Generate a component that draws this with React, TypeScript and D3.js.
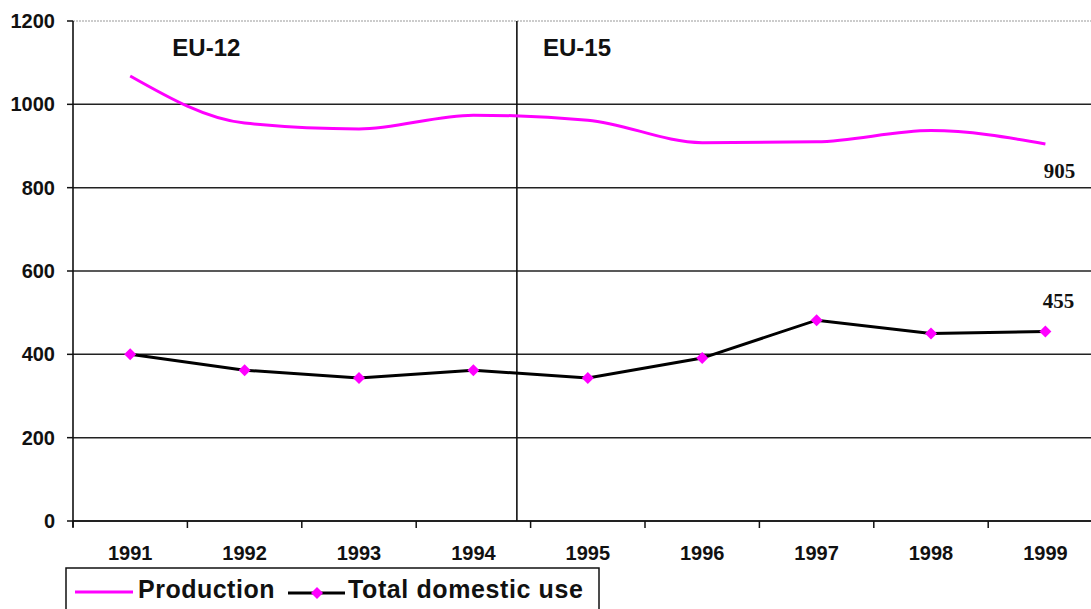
import React from "react";
import * as d3 from "d3";

const years = ["1991", "1992", "1993", "1994", "1995", "1996", "1997", "1998", "1999"];
const production = [1068, 955, 941, 974, 962, 908, 910, 937, 905];
const domesticUse = [400, 362, 343, 362, 343, 391, 482, 450, 455];
const yTicks = [0, 200, 400, 600, 800, 1000, 1200];
// EU-12 -> EU-15 divider, in category units from the left edge
const eraSplit = 3.88;
const eraLabels = [
  { label: "EU-12", at: 0.37 },
  { label: "EU-15", at: 3.61 },
];

const MAGENTA = "#ff00ff";

const App = () => {
  const width = 1091;
  const height = 609;
  const margins = { top: 21, left: 73, bottom: 88 };
  const bandW = 114.4;

  const x = d3
    .scaleBand<string>()
    .domain(years)
    .range([margins.left, margins.left + bandW * years.length])
    .padding(0);
  const y = d3
    .scaleLinear()
    .domain([0, 1200])
    .range([height - margins.bottom, margins.top]);

  const cx = (i: number) => (x(years[i]) as number) + x.bandwidth() / 2;
  const bottom = y(0);
  const top = y(1200);
  const plotRight = margins.left + bandW * years.length;

  const prodLine = d3
    .line<number>()
    .x((_, i) => cx(i))
    .y((d) => y(d))
    .curve(d3.curveMonotoneX);
  const useLine = d3
    .line<number>()
    .x((_, i) => cx(i))
    .y((d) => y(d));

  const diamond = (px: number, py: number, r = 6) =>
    `M${px},${py - r}L${px + r},${py}L${px},${py + r}L${px - r},${py}Z`;

  const divX = margins.left + x.bandwidth() * eraSplit;
  const last = years.length - 1;

  return (
    <svg
      width={width}
      height={height}
      style={{ position: "absolute", left: 0, top: 0, background: "#fff" }}
      fontFamily="Arial, 'Liberation Sans', sans-serif"
      fontWeight="bold"
    >
      {/* gridlines */}
      {yTicks.map((t) => (
        <line
          key={t}
          x1={margins.left}
          x2={plotRight}
          y1={y(t)}
          y2={y(t)}
          stroke={t === 1200 ? "#999" : "#222"}
          strokeWidth={t === 1200 ? 1 : 1.5}
          strokeDasharray={t === 1200 ? "2,1" : undefined}
        />
      ))}
      {/* y axis */}
      <line x1={margins.left} x2={margins.left} y1={top} y2={bottom + 6} stroke="#111" strokeWidth={1.6} />
      {yTicks.map((t) => (
        <g key={"yt" + t}>
          <line x1={margins.left - 6} x2={margins.left} y1={y(t)} y2={y(t)} stroke="#111" strokeWidth={1.5} />
          <text x={margins.left - 18} y={y(t) + 7} textAnchor="end" fontSize={20} fill="#111">
            {t}
          </text>
        </g>
      ))}
      {/* x axis */}
      <line x1={margins.left} x2={plotRight} y1={bottom} y2={bottom} stroke="#111" strokeWidth={1.6} />
      {years.map((yr, i) => (
        <g key={yr}>
          <line
            x1={x(yr) as number}
            x2={x(yr) as number}
            y1={bottom}
            y2={bottom + 7}
            stroke="#111"
            strokeWidth={1.5}
          />
          <text x={cx(i)} y={bottom + 39} textAnchor="middle" fontSize={20} fill="#111">
            {yr}
          </text>
        </g>
      ))}
      {/* era divider */}
      <line x1={divX} x2={divX} y1={top} y2={bottom} stroke="#111" strokeWidth={1.6} />
      {eraLabels.map((e) => (
        <text
          key={e.label}
          x={margins.left + x.bandwidth() * e.at + 57}
          y={top + 35}
          fontSize={24}
          fill="#111"
        >
          {e.label}
        </text>
      ))}
      {/* series */}
      <path d={prodLine(production) as string} fill="none" stroke={MAGENTA} strokeWidth={3} />
      <path d={useLine(domesticUse) as string} fill="none" stroke="#000" strokeWidth={3} />
      {domesticUse.map((d, i) => (
        <path key={i} d={diamond(cx(i), y(d))} fill={MAGENTA} />
      ))}
      {/* data labels */}
      <text
        x={cx(last) + 14}
        y={y(production[last]) + 34}
        textAnchor="middle"
        fontSize={21}
        fontFamily="'Liberation Serif', 'Times New Roman', serif"
        fill="#111"
      >
        {production[last]}
      </text>
      <text
        x={cx(last) + 13}
        y={y(domesticUse[last]) - 23}
        textAnchor="middle"
        fontSize={21}
        fontFamily="'Liberation Serif', 'Times New Roman', serif"
        fill="#111"
      >
        {domesticUse[last]}
      </text>
      {/* legend */}
      <g transform="translate(66,568)">
        <rect x={0} y={0} width={533} height={60} fill="#fff" stroke="#111" strokeWidth={1.5} />
        <line x1={9} x2={67} y1={24} y2={24} stroke={MAGENTA} strokeWidth={3} />
        <text x={72} y={30} fontSize={25} letterSpacing={0.5} fill="#111">
          Production
        </text>
        <line x1={222} x2={279} y1={25} y2={25} stroke="#000" strokeWidth={3} />
        <path d={diamond(251, 25)} fill={MAGENTA} />
        <text x={282} y={30} fontSize={25} letterSpacing={0.6} fill="#111">
          Total domestic use
        </text>
      </g>
    </svg>
  );
};

export default App;
